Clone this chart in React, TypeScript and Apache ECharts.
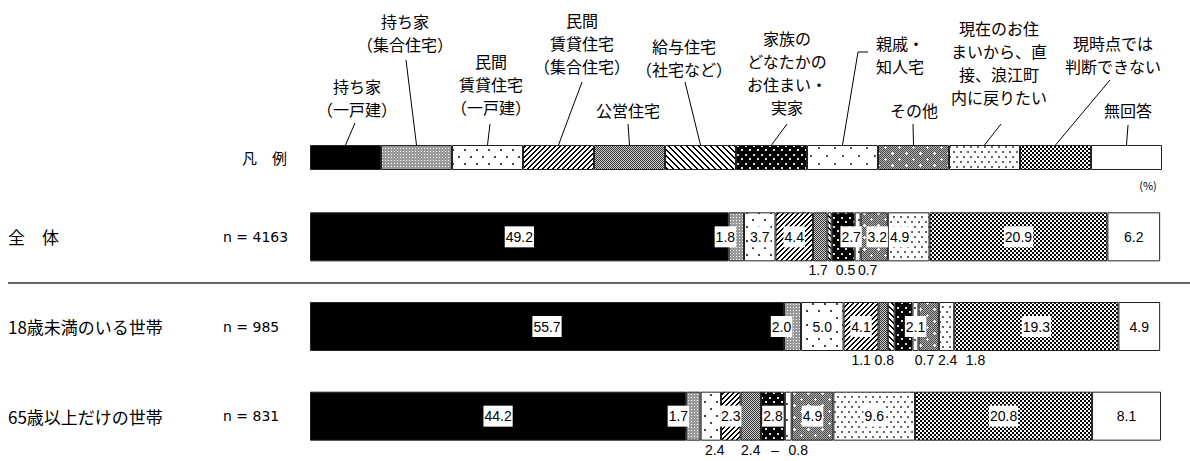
import React, { useEffect, useRef } from 'react';
import * as echarts from 'echarts';

// ---------- data ----------
const CATEGORIES = [
  '持ち家\n（一戸建）',
  '持ち家\n（集合住宅）',
  '民間\n賃貸住宅\n（一戸建）',
  '民間\n賃貸住宅\n（集合住宅）',
  '公営住宅',
  '給与住宅\n（社宅など）',
  '家族の\nどなたかの\nお住まい・\n実家',
  '親戚・\n知人宅',
  'その他',
  '現在のお住\nまいから、直\n接、浪江町\n内に戻りたい',
  '現時点では\n判断できない',
  '無回答',
];

const GROUPS = ['全　体', '18歳未満のいる世帯', '65歳以上だけの世帯'];
const SAMPLE_SIZES = ['n = 4163', 'n = 985', 'n = 831'];
const LEGEND_ROW = ['凡　例'];

const VALUES_ALL = [49.2, 1.8, 3.7, 4.4, 1.7, 0.5, 2.7, 0.7, 3.2, 4.9, 20.9, 6.2];
const VALUES_U18 = [55.7, 2.0, 5.0, 4.1, 1.1, 0.8, 2.1, 0.7, 2.4, 1.8, 19.3, 4.9];
const VALUES_65 = [44.2, 1.7, 2.4, 2.3, 2.4, 0, 2.8, 0.8, 4.9, 9.6, 20.8, 8.1];

const ROWS = [VALUES_ALL, VALUES_U18, VALUES_65];

// ---------- label placement tweaks (row-series) ----------
const LABEL_TWEAKS: Record<string, { below?: boolean; dx: number }> = {
  '0-1': { dx: -11 },
  '0-4': { below: true, dx: -2 },
  '0-5': { below: true, dx: 16 },
  '0-6': { dx: 8 },
  '0-7': { below: true, dx: 10 },
  '0-8': { dx: 3 },
  '0-9': { dx: -9 },
  '1-1': { dx: -11 },
  '1-4': { below: true, dx: -22 },
  '1-5': { below: true, dx: -7 },
  '1-6': { dx: 12 },
  '1-7': { below: true, dx: 9 },
  '1-8': { below: true, dx: 19 },
  '1-9': { below: true, dx: 29 },
  '2-1': { dx: -15 },
  '2-2': { below: true, dx: 4 },
  '2-4': { below: true, dx: 0 },
  '2-5': { below: true, dx: 14 },
  '2-7': { below: true, dx: 10 },
};

// legend text layout: [centerX, firstLineCenterY]
const LEGEND_TEXT_POS: [number, number][] = [
  [357, 86], [405, 21], [491, 61], [582, 20], [628, 110], [684, 46],
  [787, 38], [900, 43], [914, 110], [999, 28], [1113, 43], [1128, 110],
];
// leader start points (top end)
const LEADER_TOP: [number, number][] = [
  [355, 123], [406, 60], [490, 124], [582, 82], [628, 124], [685, 82],
  [787, 124], [858, 52], [913, 124], [1001, 124], [1110, 80], [1128, 125],
];

const JP = '"Noto Sans CJK JP", "Noto Sans", sans-serif';
const NUM = '"Liberation Sans", Arial, sans-serif';
const LAT = '"DejaVu Sans", sans-serif';

function makeTile(w: number, h: number, draw: (ctx: CanvasRenderingContext2D) => void) {
  const c = document.createElement('canvas');
  c.width = w;
  c.height = h;
  const ctx = c.getContext('2d')!;
  draw(ctx);
  return { image: c, repeat: 'repeat', imageWidth: w, imageHeight: h } as any;
}

function makePatterns(): any[] {
  const px = (ctx: CanvasRenderingContext2D, col: string, pts: number[][]) => {
    ctx.fillStyle = col;
    pts.forEach(([x, y, w = 1, h = 1]) => ctx.fillRect(x, y, w, h));
  };
  const bg = (ctx: CanvasRenderingContext2D, col: string, w: number, h: number) => {
    ctx.fillStyle = col;
    ctx.fillRect(0, 0, w, h);
  };
  return [
    '#000000',
    makeTile(3, 3, (ctx) => { bg(ctx, '#9a9a9a', 3, 3); px(ctx, '#ffffff', [[1, 1]]); }),
    makeTile(12, 14, (ctx) => { bg(ctx, '#ffffff', 12, 14); px(ctx, '#444', [[2, 2, 2, 2], [8, 9, 2, 2]]); }),
    makeTile(5, 5, (ctx) => {
      bg(ctx, '#ffffff', 5, 5);
      const pts: number[][] = [];
      for (let x = 0; x < 5; x++) for (let y = 0; y < 5; y++) if ((x + y) % 5 < 2) pts.push([x, y]);
      px(ctx, '#000', pts);
    }),
    makeTile(2, 2, (ctx) => { bg(ctx, '#c8c8c8', 2, 2); px(ctx, '#3a3a3a', [[0, 0], [1, 1]]); }),
    makeTile(6, 6, (ctx) => {
      bg(ctx, '#ffffff', 6, 6);
      const pts: number[][] = [];
      for (let x = 0; x < 6; x++) for (let y = 0; y < 6; y++) if ((x - y + 12) % 6 < 2) pts.push([x, y]);
      px(ctx, '#000', pts);
    }),
    makeTile(8, 9, (ctx) => { bg(ctx, '#000000', 8, 9); px(ctx, '#e0e0e0', [[1, 1, 2, 2], [5, 5, 2, 2]]); }),
    makeTile(16, 16, (ctx) => { bg(ctx, '#ffffff', 16, 16); px(ctx, '#555', [[2, 3, 2, 2], [10, 11, 2, 2]]); }),
    makeTile(14, 12, (ctx) => {
      bg(ctx, '#b0b0b0', 14, 12);
      const pts: number[][] = [];
      for (let x = 0; x < 14; x++) for (let y = 0; y < 12; y++) if ((x + y) % 2 === 0) pts.push([x, y]);
      px(ctx, '#4a4a4a', pts);
      px(ctx, '#ffffff', [[3, 2, 1, 3], [2, 3, 3, 1], [10, 8, 1, 3], [9, 9, 3, 1]]);
    }),
    makeTile(7, 10, (ctx) => { bg(ctx, '#ffffff', 7, 10); px(ctx, '#666', [[1, 1, 2, 2], [4, 6, 2, 2]]); }),
    makeTile(4, 4, (ctx) => { bg(ctx, '#ffffff', 4, 4); px(ctx, '#000', [[0, 0, 2, 2], [2, 2, 2, 2]]); }),
    '#ffffff',
  ];
}

export default function App() {
  const ref = useRef<HTMLDivElement>(null);

  useEffect(() => {
    if (!ref.current) return;
    const chart = echarts.init(ref.current, undefined, { renderer: 'svg' });
    const patterns = makePatterns();
    const names = CATEGORIES.map((c) => c.replace(/\n/g, ''));

    const itemStyleFor = (i: number) => ({ color: patterns[i], borderColor: '#222', borderWidth: 1 });

    const legendSeries = CATEGORIES.map((_, i) => ({
      type: 'bar',
      name: names[i] + '（凡例）',
      stack: 'legend',
      xAxisIndex: 0,
      yAxisIndex: 0,
      barWidth: 25,
      silent: true,
      data: [1],
      itemStyle: itemStyleFor(i),
      label: { show: false },
    }));

    const mainSeries = CATEGORIES.map((_, i) => ({
      type: 'bar',
      name: names[i],
      stack: 'main',
      xAxisIndex: 1,
      yAxisIndex: 1,
      barWidth: 49,
      silent: true,
      itemStyle: itemStyleFor(i),
      label: {
        show: true,
        position: 'inside',
        color: '#000',
        fontSize: 14,
        fontFamily: NUM,
        backgroundColor: '#fff',
        padding: [4, 1, 3, 1],
        overflow: 'none',
        formatter: (p: any) => (p.value === 0 ? '–' : Number(p.value).toFixed(1)),
      },
      data: ROWS.map((row, r) => {
        const t = LABEL_TWEAKS[`${r}-${i}`];
        const v = row[i];
        if (!t) return { value: v };
        return {
          value: v,
          label: {
            position: t.below ? 'bottom' : 'inside',
            offset: [t.dx, 0],
            distance: 0,
            padding: t.below ? [2, 0, 0, 0] : [4, 1, 3, 1],
            backgroundColor: t.below ? 'transparent' : '#fff',
          },
        };
      }),
    }));

    const graphics: any[] = [];
    const segW = 852 / 12;
    CATEGORIES.forEach((c, i) => {
      const [cx, cy] = LEGEND_TEXT_POS[i];
      graphics.push({
        type: 'text',
        x: cx,
        y: cy - 11.5,
        silent: true,
        style: {
          text: c,
          textAlign: 'center',
          textVerticalAlign: 'top',
          font: `16px ${JP}`,
          lineHeight: 23,
          fill: '#000',
        },
      });
      const bx = 310 + segW * (i + 0.5);
      const [tx, ty] = LEADER_TOP[i];
      if (i === 7) {
        graphics.push({
          type: 'polyline',
          silent: true,
          shape: { points: [[868, ty], [tx, ty], [bx, 145]] },
          style: { stroke: '#000', lineWidth: 1, fill: null },
        });
      } else {
        graphics.push({
          type: 'line',
          silent: true,
          shape: { x1: tx, y1: ty, x2: bx, y2: 145 },
          style: { stroke: '#000', lineWidth: 1 },
        });
      }
    });
    graphics.push({
      type: 'text',
      x: 1148,
      y: 185,
      silent: true,
      style: { text: '(%)', textAlign: 'center', textVerticalAlign: 'middle', font: `11px ${JP}`, fill: '#000' },
    });
    graphics.push({
      type: 'line',
      silent: true,
      shape: { x1: 8, y1: 283, x2: 1190, y2: 283 },
      style: { stroke: '#333', lineWidth: 1.5 },
    });

    chart.setOption({
      animation: false,
      backgroundColor: '#fff',
      grid: [
        { left: 310, top: 145, width: 852, height: 25 },
        { left: 310, top: 192, width: 851, height: 271 },
      ],
      xAxis: [
        { type: 'value', gridIndex: 0, min: 0, max: 12, show: false },
        { type: 'value', gridIndex: 1, min: 0, max: 100, show: false },
      ],
      yAxis: [
        {
          type: 'category',
          gridIndex: 0,
          data: LEGEND_ROW,
          axisLine: { show: false },
          axisTick: { show: false },
          axisLabel: { margin: 23, fontSize: 15, fontFamily: JP, color: '#000' },
        },
        {
          type: 'category',
          gridIndex: 1,
          inverse: true,
          data: GROUPS,
          axisLine: { show: false },
          axisTick: { show: false },
          axisLabel: {
            align: 'left',
            margin: 302,
            formatter: (v: string, idx: number) => `{g|${v}}{n|${SAMPLE_SIZES[idx]}}`,
            rich: {
              g: { width: 215, fontSize: 17, fontFamily: JP, color: '#000' },
              n: { fontSize: 14, fontFamily: LAT, color: '#000' },
            },
          },
        },
      ],
      graphic: graphics,
      series: [...legendSeries, ...mainSeries],
    });

    return () => chart.dispose();
  }, []);

  return (
    <div
      ref={ref}
      style={{ position: 'fixed', left: 0, top: 0, width: 1190, height: 461, background: '#fff' }}
    />
  );
}
